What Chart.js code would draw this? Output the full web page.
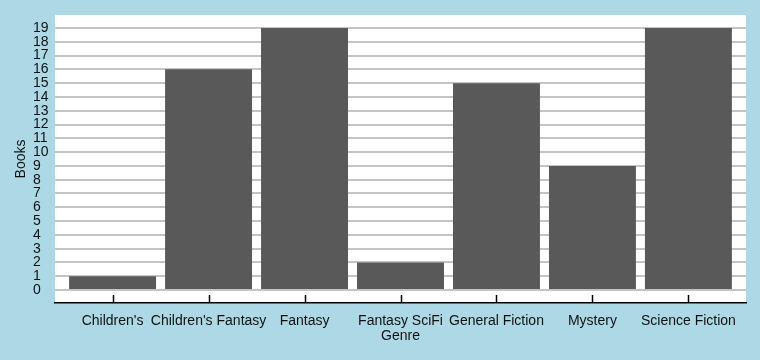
<!DOCTYPE html>
<html>
<head>
<meta charset="utf-8">
<script src="https://cdn.jsdelivr.net/npm/chart.js@4"></script>
<style>
  html, body { margin: 0; padding: 0; background: #ADD8E6; }
  canvas { display: block; }
</style>
</head>
<body>
<canvas id="plot" width="760" height="360"></canvas>
<script>
const genres = ["Children's", "Children's Fantasy", "Fantasy", "Fantasy SciFi", "General Fiction", "Mystery", "Science Fiction"];
const books = [1, 16, 19, 2, 15, 9, 19];
const yTicks = [0, 1, 2, 3, 4, 5, 6, 7, 8, 9, 10, 11, 12, 13, 14, 15, 16, 17, 18, 19];

const font = { family: "'Liberation Sans', Arial, sans-serif", size: 14 };

// white panel behind the plot
const panel = {
    id: 'panel',
    beforeDraw(chart) {
        const { ctx, chartArea: a } = chart;
        ctx.save();
        ctx.fillStyle = '#ADD8E6';
        ctx.fillRect(0, 0, chart.width, chart.height);
        ctx.fillStyle = '#ffffff';
        ctx.fillRect(a.left, a.top, a.right - a.left, a.bottom - a.top);
        ctx.restore();
    }
};

// short tick marks pointing up from the x axis line
const innerTicks = {
    id: 'innerTicks',
    afterDatasetsDraw(chart) {
        const { ctx, chartArea: a } = chart;
        const x = chart.scales.x;
        ctx.save();
        ctx.strokeStyle = '#000';
        ctx.lineWidth = 1.5;
        x.ticks.forEach(t => {
            const px = Math.round(x.getPixelForValue(t.value)) + 0.5;
            ctx.beginPath();
            ctx.moveTo(px, a.bottom);
            ctx.lineTo(px, a.bottom - 8);
            ctx.stroke();
        });
        ctx.restore();
    }
};

const data = {
    datasets: [{
        label: 'Books',
        data: books.map((v, i) => ({ x: i, y: v })),
        backgroundColor: '#595959',
        borderWidth: 0,
        barPercentage: 0.906,
        categoryPercentage: 1.0
    }]
};

const config = {
    type: 'bar',
    data: data,
    options: {
        responsive: false,
        animation: false,
        layout: { padding: { left: 33, right: 14, top: 15, bottom: 0 } },
        plugins: {
            legend: { display: false },
            tooltip: { enabled: false }
        },
        scales: {
            x: {
                type: 'linear',
                offset: false,
                min: -0.6,
                max: 6.6,
                afterBuildTicks: (scale) => { scale.ticks = genres.map((g, i) => ({ value: i })); },
                afterFit: (scale) => { scale.height = 57; },
                grid: { display: true, offset: false, drawOnChartArea: false, drawTicks: false },
                border: { display: true, color: '#000', width: 1.5 },
                ticks: {
                    autoSkip: false,
                    maxRotation: 0,
                    minRotation: 0,
                    padding: 10,
                    color: '#111',
                    font: font,
                    callback: (v) => genres[v]
                },
                title: {
                    display: true,
                    text: 'Genre',
                    color: '#111',
                    font: font,
                    padding: { top: 0, bottom: 15 }
                }
            },
            y: {
                min: -0.94,
                max: 19.94,
                afterBuildTicks: (scale) => { scale.ticks = yTicks.map(v => ({ value: v })); },
                afterFit: (scale) => { scale.width = 22; },
                grid: { color: '#c4c4c4', lineWidth: 2, drawTicks: false },
                border: { display: false },
                ticks: {
                    autoSkip: false,
                    crossAlign: 'far',
                    padding: 0,
                    color: '#111',
                    font: font
                },
                title: {
                    display: true,
                    text: 'Books',
                    color: '#111',
                    font: font,
                    padding: { top: -20.5, bottom: 0 }
                }
            }
        }
    },
    plugins: [panel, innerTicks]
};

const ctx = document.getElementById('plot').getContext('2d');
const myChart = new Chart(ctx, config);
</script>
</body>
</html>
